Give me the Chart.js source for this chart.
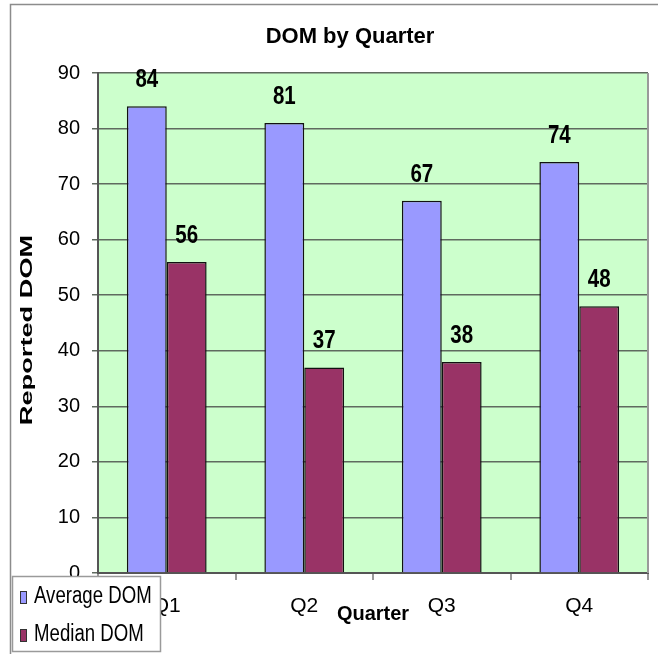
<!DOCTYPE html>
<html>
<head>
<meta charset="utf-8">
<script src="https://cdn.jsdelivr.net/npm/chart.js@4.4.0/dist/chart.umd.min.js"></script>
<style>
    html, body { margin: 0; padding: 0; background: #fff; }
</style>
</head>
<body>
<canvas id="myChart" width="658" height="654"></canvas>
<script>
// chart data
const quarters = ['Q1', 'Q2', 'Q3', 'Q4'];
const averageDom = [84, 81, 67, 74];
const medianDom = [56, 37, 38, 48];
const seriesNames = ['Average DOM', 'Median DOM'];
const yMin = 0;
const yMax = 90;
const yStep = 10;

const SANS = "'Liberation Sans', Arial, sans-serif";
Chart.defaults.font.family = SANS;
Chart.defaults.color = '#000';

// draws text squeezed horizontally, like the narrow lettering of the original
function narrowText(ctx, text, x, y, font, sx, align) {
    ctx.save();
    ctx.translate(x, y);
    ctx.scale(sx, 1);
    ctx.font = font;
    ctx.textAlign = align;
    ctx.textBaseline = 'middle';
    ctx.fillText(text, 0, 0);
    ctx.restore();
}

// background, outer frame and green plot area
const backdrop = {
    id: 'backdrop',
    beforeDraw(chart) {
        const { ctx, chartArea: a } = chart;
        ctx.save();
        ctx.fillStyle = '#fff';
        ctx.fillRect(0, 0, chart.width, chart.height);
        ctx.strokeStyle = '#8c8c8c';
        ctx.lineWidth = 1.5;
        ctx.strokeRect(10.5, 4.5, 700, 700);
        ctx.fillStyle = '#ccffcc';
        ctx.fillRect(a.left, a.top, a.right - a.left, a.bottom - a.top);
        ctx.restore();
    },
    beforeDatasetsDraw(chart) {
        const { ctx, chartArea: a } = chart;
        ctx.save();
        ctx.strokeStyle = '#9a9a9a';
        ctx.lineWidth = 2;
        ctx.beginPath();
        ctx.moveTo(a.right, a.top);
        ctx.lineTo(a.right, a.bottom);
        ctx.stroke();
        ctx.restore();
    }
};

// value labels above each bar
const valueLabels = {
    id: 'valueLabels',
    afterDatasetsDraw(chart) {
        const ctx = chart.ctx;
        ctx.fillStyle = '#000';
        chart.data.datasets.forEach((ds, i) => {
            chart.getDatasetMeta(i).data.forEach((bar, j) => {
                narrowText(ctx, String(ds.data[j]), bar.x, bar.y - 26, 'bold 25px ' + SANS, 0.82, 'center');
            });
        });
    }
};

// stretched y axis title and the legend box in the bottom left corner
const extras = {
    id: 'extras',
    afterDraw(chart) {
        const ctx = chart.ctx;
        ctx.save();
        ctx.translate(27, 330);
        ctx.rotate(-Math.PI / 2);
        ctx.scale(1.6, 1);
        ctx.font = 'bold 17px ' + SANS;
        ctx.fillStyle = '#000';
        ctx.textAlign = 'center';
        ctx.textBaseline = 'middle';
        ctx.fillText('Reported DOM', 0, 0);
        ctx.restore();

        ctx.save();
        ctx.fillStyle = '#fff';
        ctx.fillRect(12, 576, 149, 76);
        ctx.strokeStyle = '#9a9a9a';
        ctx.lineWidth = 1.5;
        ctx.strokeRect(12.5, 576.5, 148, 75);
        chart.data.datasets.forEach((ds, i) => {
            const yc = 597 + i * 38;
            ctx.fillStyle = ds.backgroundColor;
            ctx.fillRect(20, yc - 6, 7, 13);
            ctx.strokeStyle = '#333';
            ctx.lineWidth = 1;
            ctx.strokeRect(20.5, yc - 5.5, 6, 12);
            ctx.fillStyle = '#000';
            narrowText(ctx, ds.label, 34, yc, '23px ' + SANS, 0.81, 'left');
        });
        ctx.restore();
    }
};

const ctx = document.getElementById('myChart');

window.myChartInstance = new Chart(ctx, {
    type: 'bar',
    data: {
        labels: quarters,
        datasets: [
            {
                label: seriesNames[0],
                data: averageDom,
                backgroundColor: '#9999ff',
                borderColor: '#111',
                borderWidth: 1.5
            },
            {
                label: seriesNames[1],
                data: medianDom,
                backgroundColor: '#993366',
                borderColor: '#111',
                borderWidth: 1.5
            }
        ]
    },
    options: {
        responsive: false,
        animation: false,
        categoryPercentage: 0.58,
        barPercentage: 1,
        layout: {
            padding: { left: 52, right: 10, top: 0, bottom: 0 }
        },
        scales: {
            x: {
                grid: {
                    display: true,
                    drawOnChartArea: false,
                    offset: true,
                    tickLength: 7,
                    color: '#999',
                    lineWidth: 2
                },
                border: { color: '#555', width: 2 },
                ticks: {
                    font: { size: 21 },
                    color: '#000',
                    padding: 14
                },
                title: {
                    display: true,
                    text: 'Quarter',
                    font: { size: 20, weight: 'bold' },
                    color: '#000',
                    padding: { top: 0, bottom: 28 }
                },
                afterFit(scale) {
                    scale.height = 81;
                }
            },
            y: {
                min: yMin,
                max: yMax,
                ticks: {
                    stepSize: yStep,
                    font: { size: 20 },
                    color: '#000',
                    padding: 12
                },
                grid: {
                    color: '#5f6a5f',
                    lineWidth: 1.5,
                    tickLength: 6
                },
                border: { color: '#555', width: 2 },
                afterFit(scale) {
                    scale.width = 46;
                }
            }
        },
        plugins: {
            legend: { display: false },
            tooltip: { enabled: false },
            title: {
                display: true,
                text: 'DOM by Quarter',
                font: { size: 22, weight: 'bold' },
                color: '#000',
                padding: { top: 24, bottom: 22.6 }
            }
        }
    },
    plugins: [backdrop, valueLabels, extras]
});
</script>
</body>
</html>
